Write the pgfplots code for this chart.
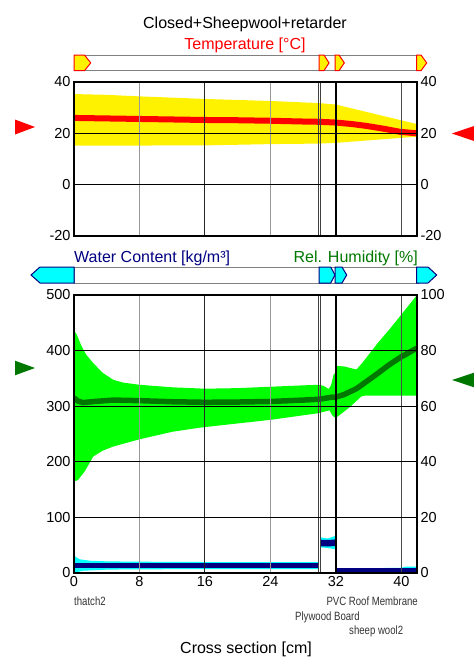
\documentclass[border=0pt]{standalone}
\usepackage{pgfplots}
\pgfplotsset{compat=1.18}
\usepgfplotslibrary{fillbetween}
\usepackage{fontspec}
\setmainfont{Liberation Sans}
\newfontfamily\narrowfont[FakeStretch=0.8]{Liberation Sans}
\newcommand\tl{\fontsize{14.5bp}{16bp}\selectfont}
\newcommand\hd{\fontsize{16bp}{18bp}\selectfont}
\newcommand\lay{\narrowfont\fontsize{12bp}{14bp}\selectfont}
\definecolor{navy}{HTML}{000080}
\definecolor{dgreen}{HTML}{007800}
\definecolor{lgreen}{HTML}{00FF00}
\definecolor{cyn}{HTML}{00FFFF}
\definecolor{gridgray}{HTML}{999999}

\pgfplotsset{
  chart/.style={
    scale only axis, width=343bp, xmin=0, xmax=41.9,
    major tick length=0, tick style={draw=none},
    /pgf/number format/assume math mode=true,
    ticklabel style={font=\tl},
    axis line style={line width=1.5bp},
  },
}
% vertical grid and layer boundaries
\newcommand\vlines[2]{%
  \draw[gridgray, line width=1bp] (axis cs:8,#1) -- (axis cs:8,#2);
  \draw[black!85, line width=1bp] (axis cs:16,#1) -- (axis cs:16,#2);
  \draw[gridgray, line width=1bp] (axis cs:24,#1) -- (axis cs:24,#2);
  \draw[black!75, line width=0.8bp] (axis cs:29.9,#1) -- (axis cs:29.9,#2);
  \draw[black!75, line width=0.8bp] (axis cs:30.15,#1) -- (axis cs:30.15,#2);
  \draw[black, line width=1.5bp] (axis cs:32,#1) -- (axis cs:32,#2);
  \draw[black!70, line width=1bp] (axis cs:40,#1) -- (axis cs:40,#2);
}

\begin{document}
\begin{tikzpicture}

% ---------------- temperature ----------------
\begin{axis}[chart, at={(74bp,-82bp)}, anchor=north west, height=154bp,
  ymin=-20, ymax=40, ytick={-20,0,20,40}, xtick=\empty,
  ymajorgrids, grid style={black, line width=0.8bp}, axis on top]
\addplot[name path=tup, draw=none] coordinates {(0,35.3)(4,35.0)(8,34.4)(16,33.4)(24,32.6)(29.9,31.8)(32,31.2)(41.9,23.6)};
\addplot[name path=tlo, draw=none] coordinates {(0,15.2)(16,15.3)(24,15.8)(29.9,16.0)(32,16.3)(41.9,18.7)};
\addplot[yellow] fill between[of=tup and tlo];
\addplot[red, line width=6bp] coordinates {(0,26.0)(4,25.8)(8,25.6)(12,25.4)(16,25.2)(20,25.1)(24,24.9)(28,24.6)(29.9,24.5)(32,24.2)(34,23.6)(35.7,22.9)(38,21.7)(39.8,20.6)(41.9,20.0)};
\vlines{-20}{40}
\end{axis}
\begin{axis}[chart, at={(74bp,-82bp)}, anchor=north west, height=154bp,
  ymin=-20, ymax=40, ytick={-20,0,20,40}, axis y line*=right, hide x axis]
\addplot[draw=none] coordinates {(0,26.0)(41.9,20.0)};
\end{axis}

% ---------------- relative humidity (right axis) ----------------
\begin{axis}[chart, at={(74bp,-295bp)}, anchor=north west, height=278bp,
  ymin=0, ymax=100, ytick={0,20,...,100}, axis y line*=right, hide x axis]
\addplot[name path=hup, draw=none] coordinates {(0,87.2)(0.3,86)(0.94,81.5)(1.5,78.5)(2.35,75.5)(3.5,72)(4.8,69.5)(6,68.5)(8,67.7)(12,66.8)(16,66.3)(20,66.5)(24,67)(28,67.5)(29.9,67.7)(30.5,67.3)(31.1,66.2)(31.4,67.5)(31.7,71.3)(31.9,72)(32.0,74.5)(33,74.3)(34.5,73.2)(35.2,75.5)(37.1,82.7)(38.5,87.5)(40,93)(41.9,100)};
\addplot[name path=hlo, draw=none] coordinates {(0,32.9)(0.5,33.5)(1.3,36.5)(2.35,41.9)(3.5,44)(4.8,45.5)(8,48.1)(12,50.8)(15.4,52.3)(20,53.8)(24,55.1)(29.9,57.5)(30.5,58)(31.2,58.5)(31.6,56.5)(32.0,55.8)(33.7,59.7)(35.1,63.5)(35.5,63.8)(41.9,63.8)};
\addplot[lgreen] fill between[of=hup and hlo];
\addplot[dgreen, line width=5.5bp] coordinates {(0,63.0)(0.5,61.8)(1.1,61.3)(2.5,61.7)(4.8,62.2)(8,62.0)(12,61.6)(16,61.4)(20,61.5)(24,61.7)(28,62.2)(29.9,62.5)(31,63)(31.6,63.3)(32,63.3)(33,64.2)(34.5,66.3)(36.5,70.5)(38.5,74.9)(40,77.8)(41.9,80.9)};
\end{axis}

% ---------------- water content (left axis) ----------------
\begin{axis}[chart, at={(74bp,-295bp)}, anchor=north west, height=278bp,
  ymin=0, ymax=500, ytick={0,100,...,500}, xtick={0,8,16,24,32,40},
  ymajorgrids, grid style={black, line width=0.8bp}, axis on top]
\addplot[name path=wup1, draw=none] coordinates {(0,32)(0.3,28)(0.7,24.6)(2,22)(4,21)(7.2,20.4)(15,19.8)(29.9,19.5)};
\addplot[name path=wlo1, draw=none] coordinates {(0,0.5)(0.5,2)(1,4)(4,6)(7.2,6.7)(29.9,7)};
\addplot[cyn] fill between[of=wup1 and wlo1];
\addplot[name path=wup2, draw=none] coordinates {(30.15,64)(31,62)(31.9,66.5)};
\addplot[name path=wlo2, draw=none] coordinates {(30.15,46)(31,45)(31.9,42.7)};
\addplot[cyn] fill between[of=wup2 and wlo2];
\addplot[name path=wup3, draw=none] coordinates {(32,6.7)(35.5,6.7)(36,8.5)(40,9.5)(40.5,11.4)(41.9,11.4)};
\addplot[name path=wlo3, draw=none] coordinates {(32,0)(41.9,0)};
\addplot[cyn] fill between[of=wup3 and wlo3];
\addplot[navy, line width=5.6bp] coordinates {(0,13.5)(29.9,13.5)};
\addplot[navy, line width=6.5bp] coordinates {(30.15,54)(31,53.5)(31.9,54.5)};
\addplot[navy, line width=6bp] coordinates {(32,3.3)(41.9,3.3)};
\vlines{0}{500}
\end{axis}

% ---------------- boundary bars ----------------
\draw[gray, fill=white, line width=1bp] (74bp,-55bp) rectangle (418bp,-70.7bp);
\foreach \a/\b/\c in {74/84.5/90.7, 319/324/329, 335/339/344.3, 416.7/421/426.7}
  \draw[red, fill=yellow, line width=1bp] (\a bp,-55bp) -- (\b bp,-55bp) -- (\c bp,-62.9bp) -- (\b bp,-70.7bp) -- (\a bp,-70.7bp) -- cycle;
\draw[gray, fill=white, line width=1bp] (74bp,-267bp) rectangle (418bp,-283bp);
\draw[navy, fill=cyn, line width=1bp] (74bp,-267bp) -- (40bp,-267bp) -- (31bp,-275bp) -- (40bp,-283bp) -- (74bp,-283bp) -- cycle;
\foreach \a/\b/\c in {319/330.7/335, 335/342/346.7, 416.7/428/436.7}
  \draw[navy, fill=cyn, line width=1bp] (\a bp,-267bp) -- (\b bp,-267bp) -- (\c bp,-275bp) -- (\b bp,-283bp) -- (\a bp,-283bp) -- cycle;

% boundary condition markers
\fill[red] (15bp,-119.5bp) -- (35bp,-127bp) -- (15bp,-134.5bp) -- cycle;
\fill[red] (474bp,-126bp) -- (452bp,-133.5bp) -- (474bp,-141bp) -- cycle;
\fill[dgreen] (15bp,-360.7bp) -- (35bp,-368bp) -- (15bp,-375.3bp) -- cycle;
\fill[dgreen] (474bp,-372.7bp) -- (452bp,-380bp) -- (474bp,-387.3bp) -- cycle;

% titles and labels
\node[anchor=base, font=\hd, inner sep=0] at (245bp,-28.3bp) {Closed+Sheepwool+retarder};
\node[anchor=base, font=\hd, red, inner sep=0] at (245bp,-49bp) {Temperature [°C]};
\node[anchor=base west, font=\hd, navy, inner sep=0] at (74bp,-262.7bp) {Water Content [kg/m³]};
\node[anchor=base east, font=\hd, dgreen, inner sep=0] at (418bp,-262.7bp) {Rel. Humidity [\%]};
\node[anchor=base west, font=\lay, black!80, inner sep=0] at (74bp,-605.7bp) {thatch2};
\node[anchor=base east, font=\lay, black!80, inner sep=0] at (418bp,-605.7bp) {PVC Roof Membrane};
\node[anchor=base west, font=\lay, black!80, inner sep=0] at (295bp,-620bp) {Plywood Board};
\node[anchor=base west, font=\lay, black!80, inner sep=0] at (349bp,-634.3bp) {sheep wool2};
\node[anchor=base, font=\hd, inner sep=0] at (246bp,-653.3bp) {Cross section [cm]};

\path (0,0) rectangle (474bp,-661bp);
\end{tikzpicture}
\end{document}
